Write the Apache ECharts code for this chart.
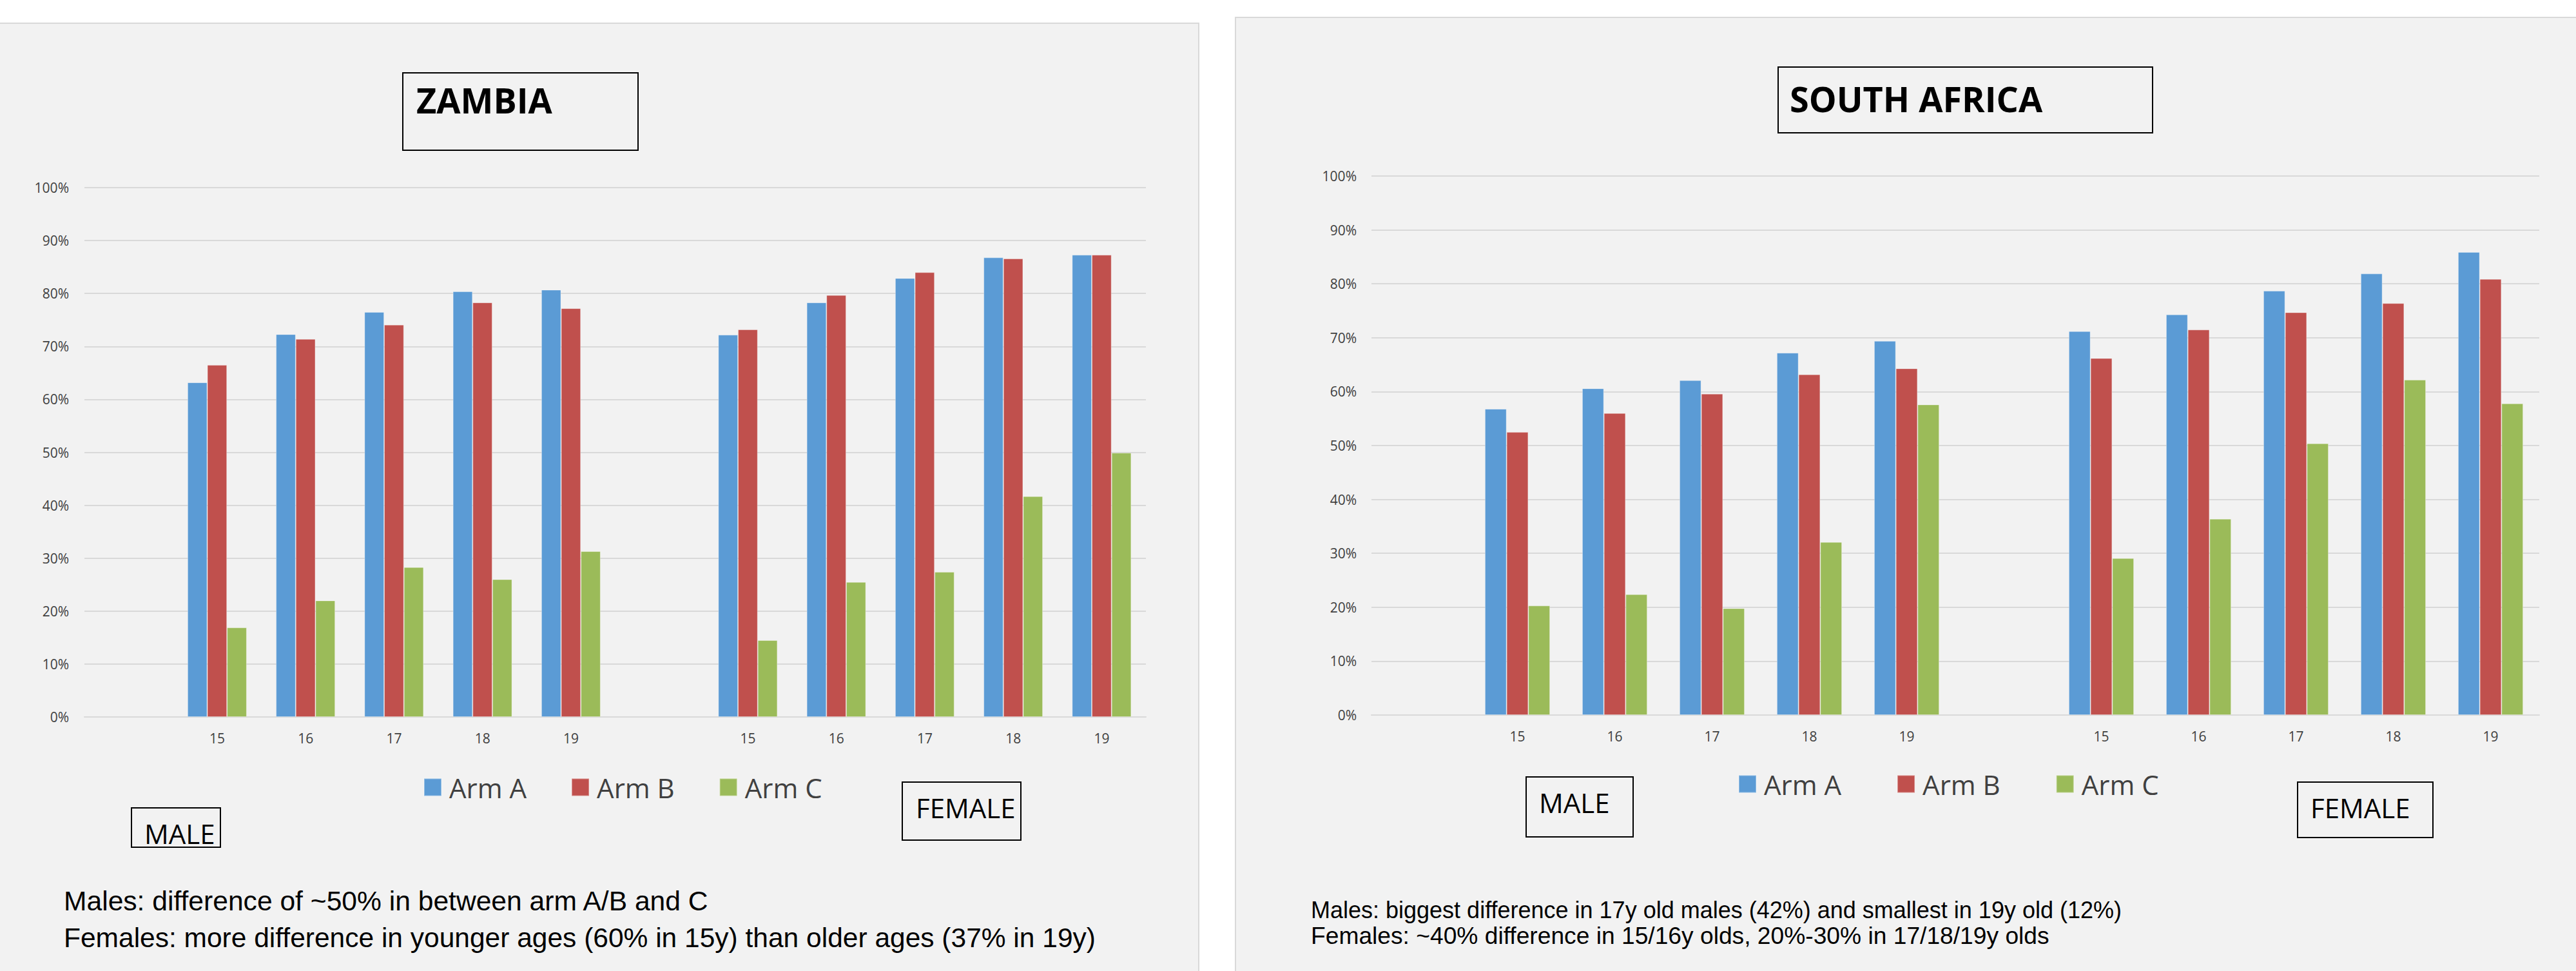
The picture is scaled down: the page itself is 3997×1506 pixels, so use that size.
<!DOCTYPE html>
<html>
<head>
<meta charset="utf-8">
<script src="https://cdn.jsdelivr.net/npm/echarts@6/dist/echarts.min.js"></script>
<style>
  html, body { margin: 0; padding: 0; background: #ffffff; }
  #chart { width: 3997px; height: 1506px; }
</style>
</head>
<body>
<div id="chart"></div>
<script>
// Ages shown under each sex group
const ages = ['15', '16', '17', '18', '19'];
const armNames = ['Arm A', 'Arm B', 'Arm C'];
const armColors = ['#5B9BD5', '#C0504D', '#9BBB59'];

// Zambia (% per age)
const zambiaMaleArmA = [63.2, 72.3, 76.5, 80.4, 80.7];
const zambiaMaleArmB = [66.5, 71.4, 74.1, 78.3, 77.2];
const zambiaMaleArmC = [16.9, 22.0, 28.3, 26.0, 31.3];
const zambiaFemaleArmA = [72.2, 78.3, 82.9, 86.8, 87.3];
const zambiaFemaleArmB = [73.2, 79.7, 84.0, 86.6, 87.3];
const zambiaFemaleArmC = [14.5, 25.5, 27.4, 41.7, 49.9];

// South Africa (% per age)
const southAfricaMaleArmA = [56.8, 60.6, 62.1, 67.2, 69.4];
const southAfricaMaleArmB = [52.5, 56.0, 59.6, 63.2, 64.3];
const southAfricaMaleArmC = [20.3, 22.4, 19.8, 32.1, 57.6];
const southAfricaFemaleArmA = [71.2, 74.3, 78.7, 81.9, 85.9];
const southAfricaFemaleArmB = [66.2, 71.5, 74.7, 76.4, 80.9];
const southAfricaFemaleArmC = [29.1, 36.4, 50.4, 62.2, 57.8];

// Category slots: an empty slot before each sex group
const categories = ['gap-M'].concat(ages.map(a => 'M' + a), ['gap-F'], ages.map(a => 'F' + a));
const slot = (male, female) => [null].concat(male, [null], female);

const axisTextColor = '#404040';
const gridLineColor = '#d9d9d9';
const tickFont = '"Open Sans", sans-serif';

function xAxisFor(gridIndex) {
  return {
    type: 'category',
    gridIndex: gridIndex,
    data: categories,
    axisLine: { show: true, lineStyle: { color: gridLineColor, width: 2 } },
    axisTick: { show: false },
    axisLabel: {
      interval: 0,
      margin: 22,
      color: axisTextColor,
      fontFamily: tickFont,
      fontSize: 21,
      formatter: v => (v.indexOf('gap') === 0 ? '' : v.slice(1))
    }
  };
}

function yAxisFor(gridIndex, margin) {
  return {
    type: 'value',
    gridIndex: gridIndex,
    min: 0,
    max: 100,
    interval: 10,
    axisLine: { show: false },
    axisTick: { show: false },
    splitLine: { show: true, lineStyle: { color: gridLineColor, width: 2 } },
    axisLabel: {
      margin: margin,
      color: axisTextColor,
      fontFamily: tickFont,
      fontSize: 21,
      formatter: '{value}%'
    }
  };
}

function barSeries(name, color, idx, data) {
  return {
    name: name,
    type: 'bar',
    xAxisIndex: idx,
    yAxisIndex: idx,
    data: data,
    barGap: '0%',
    barCategoryGap: '33%',
    itemStyle: { color: color, borderColor: 'rgba(255,255,255,0.35)', borderWidth: 1 },
    emphasis: { disabled: true }
  };
}

function legendFor(left, top, gap) {
  return {
    data: armNames,
    left: left,
    top: top,
    orient: 'horizontal',
    icon: 'rect',
    itemWidth: 27,
    itemHeight: 27,
    itemGap: gap,
    selectedMode: false,
    textStyle: {
      color: axisTextColor,
      fontFamily: tickFont,
      fontSize: 42,
      lineHeight: 42,
      padding: [0, 0, 0, 7]
    }
  };
}

function boxedLabel(x, y, w, h, text, tx, ty, size, weight) {
  return [
    {
      type: 'rect',
      z: 10,
      shape: { x: x, y: y, width: w, height: h },
      style: { fill: 'none', stroke: '#000000', lineWidth: 2 }
    },
    {
      type: 'text',
      z: 11,
      style: {
        text: text,
        x: tx,
        y: ty,
        fill: '#000000',
        font: (weight || 'normal') + ' ' + size + 'px "Open Sans", sans-serif',
        textAlign: 'left',
        textVerticalAlign: 'middle'
      }
    }
  ];
}

function note(text, x, y, size) {
  return {
    type: 'text',
    z: 11,
    style: {
      text: text,
      x: x,
      y: y,
      fill: '#000000',
      font: size + 'px "Liberation Sans", Arial, sans-serif',
      textAlign: 'left',
      textVerticalAlign: 'middle'
    }
  };
}

const panels = [
  {
    type: 'rect',
    z: -10,
    shape: { x: -2, y: 36, width: 1862, height: 1480 },
    style: { fill: '#f2f2f2', stroke: '#d9d9d9', lineWidth: 2 }
  },
  {
    type: 'rect',
    z: -10,
    shape: { x: 1917, y: 27, width: 2090, height: 1490 },
    style: { fill: '#f2f2f2', stroke: '#d9d9d9', lineWidth: 2 }
  }
];

const labels = [].concat(
  boxedLabel(625, 113, 365, 120, 'ZAMBIA', 646, 155, 54, 'bold'),
  boxedLabel(2759, 104, 581, 102, 'SOUTH AFRICA', 2777, 153, 54, 'bold'),
  boxedLabel(204, 1253, 138, 61, 'MALE', 224, 1292, 42),
  boxedLabel(1400, 1213, 184, 90, 'FEMALE', 1421, 1252, 42),
  boxedLabel(2368, 1205, 166, 93, 'MALE', 2388, 1244, 42),
  boxedLabel(3565, 1213, 210, 86, 'FEMALE', 3585, 1252, 42),
  [
    note('Males: difference of ~50% in between arm A/B and C', 99, 1397, 42.6),
    note('Females: more difference in younger ages (60% in 15y) than older ages (37% in 19y)', 99, 1454, 42.5),
    note('Males: biggest difference in 17y old males (42%) and smallest in 19y old (12%)', 2034, 1411, 36),
    note('Females: ~40% difference in 15/16y olds, 20%-30% in 17/18/19y olds', 2034, 1451, 37.2)
  ]
);

const chart = echarts.init(document.getElementById('chart'), null, { renderer: 'svg', width: 3997, height: 1506 });

chart.setOption({
  backgroundColor: '#ffffff',
  animation: false,
  grid: [
    { left: 131, top: 291, width: 1647, height: 821 },
    { left: 2128, top: 273, width: 1812, height: 836 }
  ],
  xAxis: [xAxisFor(0), xAxisFor(1)],
  yAxis: [yAxisFor(0, 24), yAxisFor(1, 23)],
  legend: [legendFor(652, 1195, 69), legendFor(2692, 1190, 86)],
  graphic: panels.concat(labels),
  series: [
    barSeries('Arm A', armColors[0], 0, slot(zambiaMaleArmA, zambiaFemaleArmA)),
    barSeries('Arm B', armColors[1], 0, slot(zambiaMaleArmB, zambiaFemaleArmB)),
    barSeries('Arm C', armColors[2], 0, slot(zambiaMaleArmC, zambiaFemaleArmC)),
    barSeries('Arm A', armColors[0], 1, slot(southAfricaMaleArmA, southAfricaFemaleArmA)),
    barSeries('Arm B', armColors[1], 1, slot(southAfricaMaleArmB, southAfricaFemaleArmB)),
    barSeries('Arm C', armColors[2], 1, slot(southAfricaMaleArmC, southAfricaFemaleArmC))
  ]
});
</script>
</body>
</html>
